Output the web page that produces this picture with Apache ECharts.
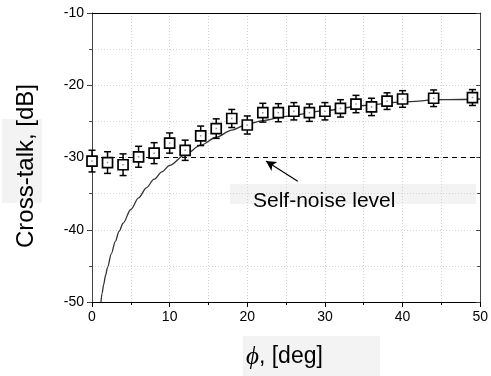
<!DOCTYPE html>
<html>
<head>
<meta charset="utf-8">
<script src="https://cdn.jsdelivr.net/npm/echarts@6/dist/echarts.min.js"></script>
<style>
  html, body { margin: 0; padding: 0; background: #fff; }
  #chart { width: 491px; height: 376px; }
</style>
</head>
<body>
<div id="chart"></div>
<script>
// measured points (squares with error bars)
const phi = [0, 2, 4, 6, 8, 10, 12, 14, 16, 18, 20, 22, 24, 26, 28, 30, 32, 34, 36, 38, 40, 44, 49];
const crossTalk = [-30.5, -30.7, -31.0, -29.9, -29.4, -28.0, -29.0, -27.0, -26.0, -24.6, -25.5, -23.8,
  -23.8, -23.6, -23.8, -23.6, -23.2, -22.6, -23.0, -22.2, -21.9, -21.8, -21.7];
const errBar = [1.5, 1.5, 1.5, 1.45, 1.45, 1.4, 1.4, 1.35, 1.35, 1.25, 1.25, 1.3,
  1.25, 1.2, 1.2, 1.2, 1.2, 1.2, 1.2, 1.15, 1.15, 1.15, 1.1];

// theory curve
const curvePhi = [1.15, 1.3, 1.5, 1.75, 2, 2.5, 3, 3.5, 4, 5, 6, 7, 8, 9, 10, 12, 14, 16, 18, 20, 22, 25, 30, 35, 40, 45, 50];
const curveDb = [-50, -48.8, -47.6, -46.3, -45.2, -43.3, -41.6, -40.2, -39.1, -37.2, -35.6, -34.2, -33.0, -32.0, -31.1,
  -29.6, -28.3, -27.2, -26.2, -25.4, -24.9, -24.3, -23.5, -22.8, -22.3, -22.0, -21.9];

const noiseLevel = -30;
const xTicks = { min: 0, max: 50, interval: 10 };
const yTicks = { min: -50, max: -10, interval: 10 };

const chart = echarts.init(document.getElementById("chart"), null, { renderer: "canvas" });

const gridLine = { show: true, lineStyle: { color: "#d4d4d4", type: [1, 2], width: 1 } };
const labelStyle = { color: "#000", fontSize: 14, fontFamily: "Liberation Sans, Arial" };

const option = {
  animation: false,
  backgroundColor: "#fff",
  grid: { left: 92, right: 5, top: 13, bottom: 74 },
  xAxis: [
    {
      type: "value",
      ...xTicks,
      axisLine: { lineStyle: { color: "#000", width: 1 } },
      axisTick: { inside: false, length: 5, lineStyle: { color: "#000" } },
      minorTick: { show: true, splitNumber: 2, length: 3, lineStyle: { color: "#000" } },
      splitLine: gridLine,
      minorSplitLine: gridLine,
      axisLabel: { ...labelStyle, margin: 8, alignMaxLabel: "center", alignMinLabel: "center" },
    },
    {
      type: "value",
      position: "top",
      ...xTicks,
      axisLine: { show: true, onZero: false, lineStyle: { color: "#000", width: 1 } },
      axisTick: { show: false },
      axisLabel: { show: false },
      splitLine: { show: false },
    },
  ],
  yAxis: [
    {
      type: "value",
      ...yTicks,
      axisLine: { show: true, onZero: false, lineStyle: { color: "#444", width: 1 } },
      axisTick: { inside: false, length: 5, lineStyle: { color: "#444" } },
      minorTick: { show: true, splitNumber: 2, length: 3, lineStyle: { color: "#444" } },
      splitLine: gridLine,
      minorSplitLine: gridLine,
      axisLabel: { ...labelStyle, margin: 8 },
    },
    {
      type: "value",
      position: "right",
      ...yTicks,
      axisLine: { show: true, onZero: false, lineStyle: { color: "#444", width: 1 } },
      axisTick: { inside: true, length: 4, lineStyle: { color: "#444" } },
      minorTick: { show: true, splitNumber: 2, length: 3, lineStyle: { color: "#444" } },
      axisLabel: { show: false },
      splitLine: { show: false },
    },
  ],
  graphic: [
    { type: "rect", shape: { x: 2, y: 119, width: 40, height: 84 }, style: { fill: "#f3f3f3" }, z: 0 },
    {
      type: "text", x: 26, y: 166, rotation: Math.PI / 2,
      style: {
        text: "Cross-talk, [dB]", fill: "#000", font: "24px Liberation Sans, Arial",
        textAlign: "center", textVerticalAlign: "middle",
      },
      z: 1,
    },
    { type: "rect", shape: { x: 243, y: 336, width: 137, height: 40 }, style: { fill: "#f3f3f3" }, z: 0 },
    {
      type: "text", x: 246, y: 357,
      style: {
        text: "{phi|\u03d5}{t|, [deg]}",
        textVerticalAlign: "middle",
        rich: {
          phi: { fontFamily: "Liberation Serif, Times New Roman", fontStyle: "italic", fontSize: 25, fill: "#000" },
          t: { fontFamily: "Liberation Sans, Arial", fontSize: 23, fill: "#000" },
        },
      },
      z: 1,
    },
    { type: "rect", shape: { x: 230, y: 184, width: 246, height: 20 }, style: { fill: "#f3f3f3" }, z: 0 },
    {
      type: "text", x: 253, y: 201,
      style: {
        text: "Self-noise level", fill: "#000", font: "21px Liberation Sans, Arial",
        textVerticalAlign: "middle",
      },
      z: 1,
    },
  ],
  series: [
    {
      name: "noise",
      type: "line",
      data: [[xTicks.min, noiseLevel], [xTicks.max, noiseLevel]],
      symbol: "none",
      lineStyle: { color: "#000", width: 1.2, type: [5, 4] },
      markLine: {
        silent: true,
        symbol: ["none", "arrow"],
        symbolSize: [8, 10],
        label: { show: false },
        lineStyle: { color: "#000", width: 1.2, type: "solid" },
        data: [[{ coord: [26.5, -33.3] }, { coord: [22.4, -30.5] }]],
      },
      z: 2,
    },
    {
      name: "theory",
      type: "line",
      data: curvePhi.map((x, i) => [x, curveDb[i]]),
      smooth: 0.3,
      smoothMonotone: "x",
      symbol: "none",
      lineStyle: { color: "#333", width: 1.3 },
      z: 3,
    },
    {
      name: "errors",
      type: "custom",
      data: phi.map((x, i) => [x, crossTalk[i] - errBar[i], crossTalk[i] + errBar[i]]),
      renderItem: (params, api) => {
        const lo = api.coord([api.value(0), api.value(1)]);
        const hi = api.coord([api.value(0), api.value(2)]);
        const w = 3.5;
        const style = { stroke: "#000", lineWidth: 1.5 };
        return {
          type: "group",
          children: [
            { type: "line", shape: { x1: lo[0], y1: lo[1], x2: hi[0], y2: hi[1] }, style },
            { type: "line", shape: { x1: lo[0] - w, y1: lo[1], x2: lo[0] + w, y2: lo[1] }, style },
            { type: "line", shape: { x1: hi[0] - w, y1: hi[1], x2: hi[0] + w, y2: hi[1] }, style },
          ],
        };
      },
      z: 4,
    },
    {
      name: "measured",
      type: "scatter",
      data: phi.map((x, i) => [x, crossTalk[i]]),
      symbol: "rect",
      symbolSize: 10,
      itemStyle: { color: "#fff", borderColor: "#000", borderWidth: 1.7, opacity: 1 },
      z: 5,
    },
    {
      name: "centers",
      type: "scatter",
      data: phi.map((x, i) => [x, crossTalk[i]]),
      symbol: "rect",
      symbolSize: 1.5,
      itemStyle: { color: "#777" },
      z: 6,
    },
  ],
};

chart.setOption(option);
</script>
</body>
</html>
